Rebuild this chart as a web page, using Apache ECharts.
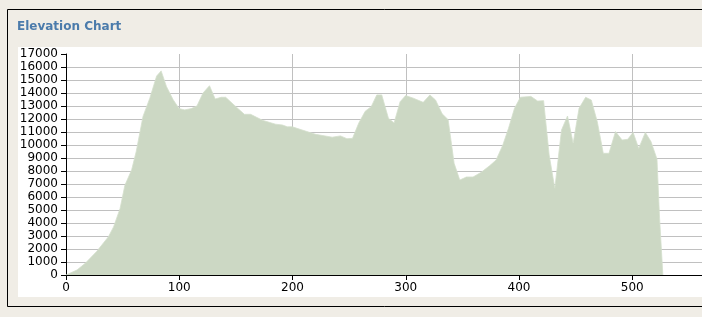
<!DOCTYPE html>
<html>
<head>
<meta charset="utf-8">
<script src="https://cdn.jsdelivr.net/npm/echarts@6/dist/echarts.min.js"></script>
<style>
html,body{margin:0;padding:0;background:#f0ede6;overflow:hidden;width:702px;height:317px;}
#c{width:760px;height:317px;}
</style>
</head>
<body>
<div id="c"></div>
<script>
const titleText = "Elevation Chart";
const distances = [0, 9.7, 17, 27, 37.5, 42, 47.7, 52, 58, 62, 68, 74, 80, 84, 88.7, 94.5, 99.8, 104.8, 110.6, 115.6, 121, 126.7, 131.7, 137, 141, 150, 157.5, 163, 173.5, 185, 191, 195.5, 199.8, 208.6, 220.4, 235, 242.3, 248, 253, 258.4, 264.2, 269.5, 274.4, 278.8, 284.7, 289.7, 295, 299.9, 306.7, 315.4, 321.3, 326.3, 332.1, 337.4, 342.7, 347.7, 353.5, 359.4, 366.6, 374, 379.8, 385.7, 390.7, 396, 401.2, 410.5, 416.4, 421.7, 426.6, 431.6, 437.5, 442.8, 447.8, 453, 458.8, 463.8, 469.1, 474.4, 479.4, 485.2, 491, 496, 500.7, 505.7, 511.5, 516.5, 521.8, 524.1, 527];
const elevations = [0, 385, 900, 1800, 2950, 3700, 5100, 6900, 8100, 9500, 12200, 13600, 15300, 15700, 14500, 13500, 12800, 12700, 12800, 13000, 14000, 14560, 13540, 13670, 13670, 12950, 12360, 12360, 11900, 11600, 11540, 11400, 11400, 11150, 10820, 10600, 10700, 10490, 10510, 11670, 12600, 12950, 13850, 13850, 12050, 11700, 13330, 13800, 13600, 13280, 13850, 13460, 12400, 11950, 8590, 7300, 7540, 7540, 7900, 8400, 8850, 10000, 11280, 12820, 13670, 13740, 13380, 13410, 9230, 6670, 11150, 12230, 10130, 12820, 13670, 13460, 11790, 9360, 9360, 11030, 10380, 10440, 10970, 9740, 10970, 10260, 8920, 4360, 0];
const xTicks = [0, 100, 200, 300, 400, 500, 600];
const yTicks = [0, 1000, 2000, 3000, 4000, 5000, 6000, 7000, 8000, 9000, 10000, 11000, 12000, 13000, 14000, 15000, 16000, 17000];

const points = distances.map((d, i) => [d, elevations[i]]);
const chart = echarts.init(document.getElementById('c'), null, {renderer: 'canvas'});
chart.setOption({
  backgroundColor: '#f0ede6',
  animation: false,
  graphic: [
    {type: 'rect', z: -10, silent: true, shape: {x: 7.5, y: 9.5, width: 780, height: 297}, style: {fill: '#f0ede6', stroke: '#000', lineWidth: 1}},
    {type: 'rect', z: -9, silent: true, shape: {x: 18, y: 47, width: 760, height: 250}, style: {fill: '#ffffff'}}
  ],
  title: {
    text: titleText, left: 17, top: 21, padding: 0,
    textStyle: {fontFamily: 'DejaVu Sans', fontWeight: 'bold', fontSize: 12, color: '#4b7bab'}
  },
  grid: {left: 66, right: 10, top: 54, bottom: 42, containLabel: false},
  xAxis: {
    type: 'value', min: xTicks[0], max: xTicks[xTicks.length - 1], interval: 100,
    axisLine: {show: true, onZero: false, lineStyle: {color: '#000', width: 1}},
    axisTick: {show: true, length: 5, lineStyle: {color: '#000'}},
    axisLabel: {margin: 7, fontFamily: 'DejaVu Sans', fontSize: 12, color: '#000', formatter: v => String(v)},
    splitLine: {show: true, showMinLine: false, lineStyle: {color: '#c0c0c0', width: 1}}
  },
  yAxis: {
    type: 'value', min: yTicks[0], max: yTicks[yTicks.length - 1], interval: 1000,
    axisLine: {show: true, onZero: false, lineStyle: {color: '#000', width: 1}},
    axisTick: {show: true, length: 5, lineStyle: {color: '#000'}},
    axisLabel: {margin: 8, fontFamily: 'DejaVu Sans', fontSize: 12, color: '#000', formatter: v => String(v)},
    splitLine: {show: true, showMinLine: false, showMaxLine: false, lineStyle: {color: '#c0c0c0', width: 1}}
  },
  series: [{
    type: 'line', data: points, showSymbol: false, smooth: false,
    lineStyle: {width: 0.8, color: '#d4dfcd'},
    areaStyle: {color: '#ccd8c4', opacity: 1},
    z: 1
  }]
});
</script>
</body>
</html>
